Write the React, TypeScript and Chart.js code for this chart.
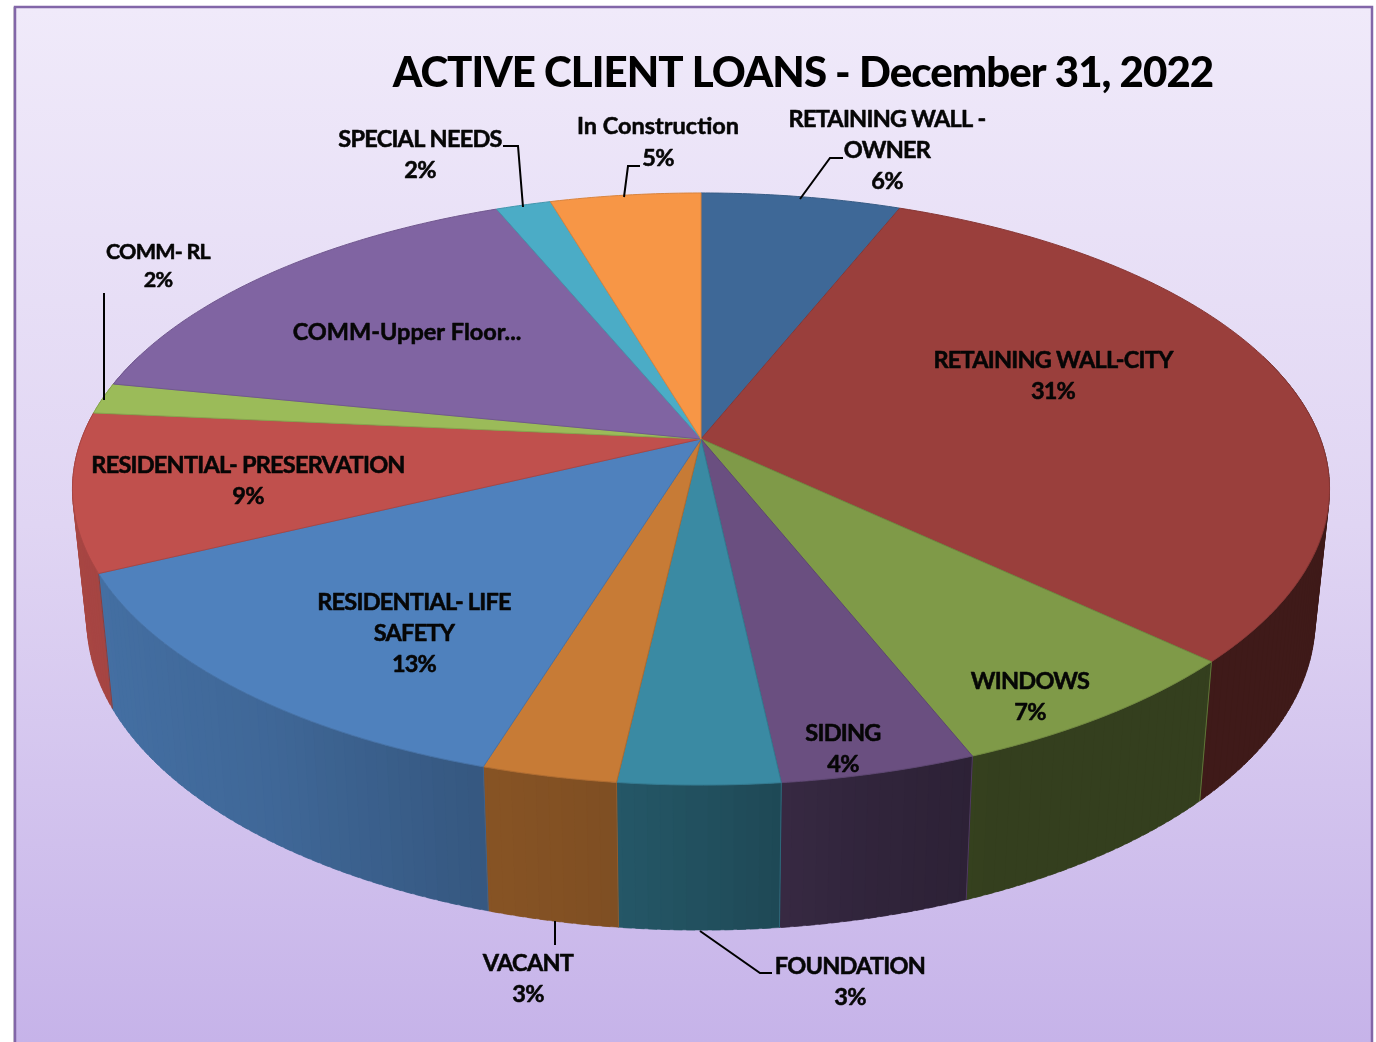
import React, { useEffect, useRef } from "react";
import { Chart, registerables } from "chart.js";

Chart.register(...registerables);

const titleText = "ACTIVE CLIENT LOANS - December 31, 2022";
const categories = [
  "RETAINING WALL - OWNER",
  "RETAINING WALL-CITY",
  "WINDOWS",
  "SIDING",
  "FOUNDATION",
  "VACANT",
  "RESIDENTIAL- LIFE SAFETY",
  "RESIDENTIAL- PRESERVATION",
  "COMM- RL",
  "COMM-Upper Floor...",
  "SPECIAL NEEDS",
  "In Construction",
];
const loanShares = [6.05, 30.95, 6.97, 4.3, 3.53, 2.95, 13.1, 8.6, 1.7, 15.6, 1.67, 4.56];
const percentLabels = ["6%", "31%", "7%", "4%", "3%", "3%", "13%", "9%", "2%", "", "2%", "5%"];
const sliceColors = [
  "#3e6897", "#9a3f3c", "#7f9a48", "#6a4f80", "#3a8aa3", "#c77b36",
  "#4f81bd", "#c0504d", "#9bbb59", "#8064a2", "#4bacc6", "#f79646",
];

// label placement: category index, centre x, first line y, line gap, font size, text lines
const labelLayout: [number, number, number, number, number, string[]][] = [
  [0, 887, 119, 31, 23.5, ["RETAINING WALL -", "OWNER"]],
  [1, 1053, 360, 31, 23.5, ["RETAINING WALL-CITY"]],
  [2, 1030, 681, 31, 23.5, ["WINDOWS"]],
  [3, 843, 733, 31, 23.5, ["SIDING"]],
  [4, 850, 966, 31, 23.5, ["FOUNDATION"]],
  [5, 528, 963, 31, 23.5, ["VACANT"]],
  [6, 414, 602, 31, 23.5, ["RESIDENTIAL- LIFE", "SAFETY"]],
  [7, 248, 465, 31, 23.5, ["RESIDENTIAL- PRESERVATION"]],
  [8, 158, 252, 28, 21.5, ["COMM- RL"]],
  [9, 407, 332, 31, 23.5, ["COMM-Upper Floor..."]],
  [10, 420, 139, 31, 23.5, ["SPECIAL NEEDS"]],
  [11, 658, 126, 32, 23.5, ["In Construction"]],
];
const leaderLines: [number, number][][] = [
  [[503, 146], [518, 146], [523, 207]],
  [[640, 166], [628, 166], [624, 197]],
  [[843, 158], [830, 158], [800, 199]],
  [[104, 293], [104, 400]],
  [[555, 921], [555, 945]],
  [[700, 931], [760, 973], [772, 973]],
];

// projection of the pie disc
const CX = 701, APEX_Y = 439, A = 619.5, B = 287.6, K = -0.169;
const projectTop = (t: number): [number, number] => {
  const u = Math.cos(t), v = Math.sin(t), w = 1 + K * v;
  return [CX + (A * u) / w, APEX_Y + (B * v) / w];
};
const toBottom = ([x, y]: [number, number]): [number, number] => [CX + 0.977 * (x - CX), 1.047 * y + 108.1];

const shadeStops: [number, number][] = [
  [-1, 0.88], [-0.6, 0.8], [-0.3, 0.68], [-0.12, 0.64], [0, 0.58], [0.2, 0.47], [0.4, 0.41], [1, 0.41],
];
const shadeAt = (u: number) => {
  for (let i = 1; i < shadeStops.length; i++) {
    if (u <= shadeStops[i][0]) {
      const [a, fa] = shadeStops[i - 1], [b, fb] = shadeStops[i];
      return fa + ((fb - fa) * (u - a)) / (b - a);
    }
  }
  return 0.41;
};
const scaled = (hex: string, f: number) => {
  const n = parseInt(hex.slice(1), 16);
  return `rgb(${Math.round((n >> 16) * f)},${Math.round(((n >> 8) & 255) * f)},${Math.round((n & 255) * f)})`;
};

const pie3d = {
  id: "pie3d",
  beforeDraw(chart: any) {
    const { ctx, width, height } = chart;
    ctx.save();
    ctx.fillStyle = "#ffffff";
    ctx.fillRect(0, 0, width, height);
    ctx.fillStyle = "#d2d2d2";
    ctx.fillRect(13, 7, 2, height);
    const g = ctx.createLinearGradient(0, 7, 0, height);
    g.addColorStop(0, "#f0eafa");
    g.addColorStop(0.5, "#e0d5f3");
    g.addColorStop(1, "#c6b3e9");
    ctx.fillStyle = g;
    ctx.fillRect(15, 7, 1357, height);
    ctx.strokeStyle = "#8266a8";
    ctx.lineWidth = 2.5;
    ctx.strokeRect(15, 7, 1357, height + 20);
    ctx.restore();
    ctx.letterSpacing = "-0.95px";
  },
  beforeDatasetsDraw(chart: any) {
    const { ctx } = chart;
    ctx.letterSpacing = "0px";
    const arcs = chart.getDatasetMeta(0).data;
    const colors = chart.data.datasets[0].backgroundColor as string[];
    const step = Math.PI / 360;
    const wallStep = Math.PI / 180;
    const overlap = 0.006;
    const quads: { v: number; u: number; color: string; t0: number; t1: number }[] = [];
    arcs.forEach((arc: any, i: number) => {
      for (let t = arc.startAngle; t < arc.endAngle - 1e-6; t += wallStep) {
        const t1 = Math.min(t + wallStep, arc.endAngle);
        const m = (t + t1) / 2;
        if (Math.sin(m) > -0.3) {
          quads.push({
            v: Math.sin(m),
            u: Math.cos(m),
            color: colors[i],
            t0: Math.max(arc.startAngle, t - overlap),
            t1: Math.min(arc.endAngle, t1 + overlap),
          });
        }
      }
    });
    quads.sort((a, b) => a.v - b.v);
    ctx.save();
    ctx.lineWidth = 0.5;
    for (const q of quads) {
      const a = projectTop(q.t0), b = projectTop(q.t1);
      const c = toBottom(b), d = toBottom(a);
      const fill = scaled(q.color, shadeAt(q.u));
      ctx.fillStyle = fill;
      ctx.strokeStyle = fill;
      ctx.beginPath();
      ctx.moveTo(a[0], a[1]);
      ctx.lineTo(b[0], b[1]);
      ctx.lineTo(c[0], c[1]);
      ctx.lineTo(d[0], d[1]);
      ctx.closePath();
      ctx.fill();
      ctx.stroke();
    }
    // seams between wall segments
    arcs.forEach((arc: any, i: number) => {
      if (Math.sin(arc.startAngle) < 0) return;
      const a = projectTop(arc.startAngle), d = toBottom(a);
      ctx.strokeStyle = scaled(colors[i], 0.75);
      ctx.lineWidth = 1;
      ctx.beginPath();
      ctx.moveTo(a[0], a[1]);
      ctx.lineTo(d[0], d[1]);
      ctx.stroke();
    });
    // top face
    arcs.forEach((arc: any, i: number) => {
      ctx.beginPath();
      ctx.moveTo(CX, APEX_Y);
      for (let t = arc.startAngle; t < arc.endAngle; t += step) {
        const p = projectTop(t);
        ctx.lineTo(p[0], p[1]);
      }
      const e = projectTop(arc.endAngle);
      ctx.lineTo(e[0], e[1]);
      ctx.closePath();
      ctx.fillStyle = colors[i];
      ctx.fill();
      ctx.strokeStyle = scaled(colors[i], 0.88);
      ctx.lineWidth = 1;
      ctx.stroke();
    });
    ctx.restore();
    return false;
  },
  afterDraw(chart: any) {
    const { ctx } = chart;
    ctx.save();
    ctx.strokeStyle = "#000000";
    ctx.lineWidth = 2;
    for (const line of leaderLines) {
      ctx.beginPath();
      line.forEach(([x, y], i) => (i ? ctx.lineTo(x, y) : ctx.moveTo(x, y)));
      ctx.stroke();
    }
    ctx.fillStyle = "#060606";
    ctx.strokeStyle = "#060606";
    ctx.lineWidth = 0.55;
    ctx.lineJoin = "round";
    ctx.textAlign = "center";
    ctx.textBaseline = "middle";
    for (const [idx, x, y, gap, size, lines] of labelLayout) {
      ctx.font = `bold ${size}px Lato`;
      const all = percentLabels[idx] ? [...lines, percentLabels[idx]] : lines;
      all.forEach((text: string, i: number) => {
        ctx.letterSpacing = /[a-z]/.test(text) ? "0px" : "-0.76px";
        ctx.fillText(text, x, y + i * gap);
        ctx.strokeText(text, x, y + i * gap);
      });
    }
    ctx.letterSpacing = "0px";
    ctx.restore();
  },
};

export default function App() {
  const ref = useRef<HTMLCanvasElement | null>(null);
  useEffect(() => {
    const chart = new Chart(ref.current!, {
      type: "pie",
      data: {
        labels: categories,
        datasets: [{ data: loanShares, backgroundColor: sliceColors, borderWidth: 0 }],
      },
      options: {
        animation: false,
        responsive: false,
        layout: { padding: { left: 230 } },
        plugins: {
          legend: { display: false },
          tooltip: { enabled: false },
          title: {
            display: true,
            text: titleText,
            color: "#000000",
            font: { family: "Lato", size: 42, weight: "900" },
            padding: { top: 48, bottom: 10 },
          },
        },
      },
      plugins: [pie3d],
    } as any);
    return () => chart.destroy();
  }, []);
  return (
    <div style={{ position: "absolute", left: 0, top: 0, width: 1376, height: 1042, overflow: "hidden" }}>
      <canvas ref={ref} width={1376} height={1042} style={{ display: "block" }} />
    </div>
  );
}
